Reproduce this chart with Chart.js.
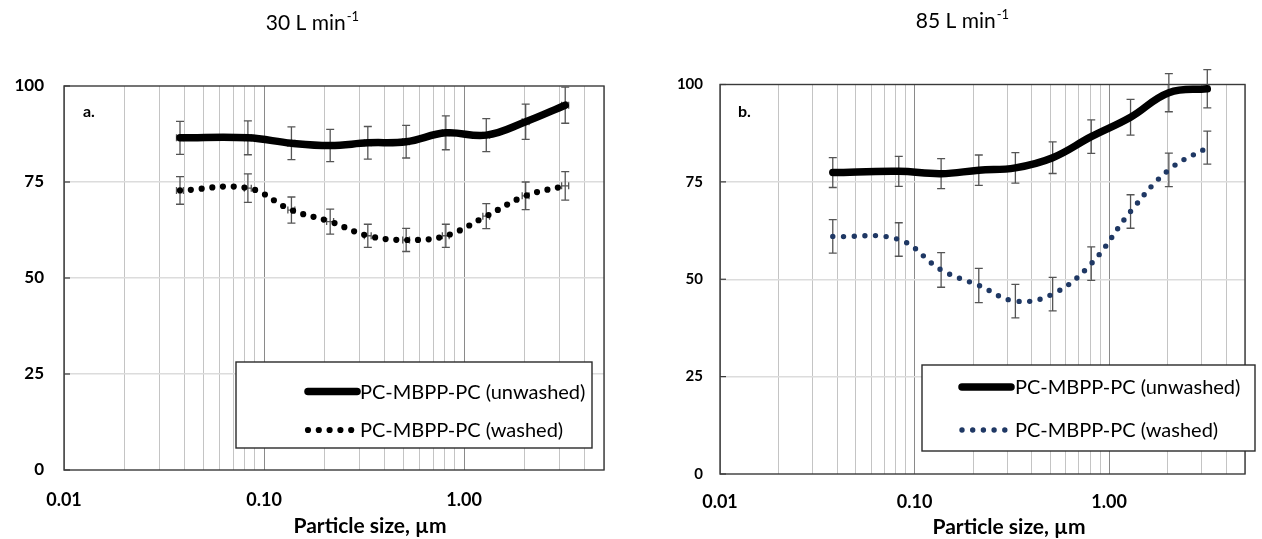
<!DOCTYPE html>
<html><head><meta charset="utf-8">
<script src="https://cdn.jsdelivr.net/npm/chart.js@4.4.1/dist/chart.umd.min.js"></script>
<style>
html,body{margin:0;padding:0;background:#fff;}
#wrap{position:relative;width:1262px;height:539px;overflow:hidden;}
canvas{position:absolute;top:0;}
</style></head><body>
<div id="wrap">
<canvas id="cA" width="624" height="539" style="left:0px"></canvas>
<canvas id="cB" width="632" height="539" style="left:630px"></canvas>
</div>
<script>
// ---------- data ----------
const particleSize = [0.038, 0.083, 0.137, 0.214, 0.33, 0.513, 0.81, 1.29, 2.03, 3.2];
const particleSizeErr = [0.0015, 0.0033, 0.0055, 0.0086, 0.013, 0.02, 0.032, 0.05, 0.08, 0.13];

const unwashed30 = [86.5, 86.5, 85.1, 84.5, 85.2, 85.5, 87.8, 87.2, 90.7, 95.0];
const unwashed30Err = [4.3, 4.4, 4.25, 4.2, 4.25, 4.25, 4.4, 4.3, 4.6, 4.7];
const washed30 = [72.8, 73.4, 67.7, 64.7, 61.0, 59.9, 61.0, 66.1, 71.4, 74.0];
const washed30Err = [3.6, 3.7, 3.4, 3.25, 3.0, 3.0, 3.0, 3.25, 3.6, 3.7];

const unwashed85 = [77.4, 77.7, 77.1, 78.0, 78.6, 81.2, 86.6, 91.6, 97.9, 98.9];
const unwashed85Err = [3.85, 3.85, 3.85, 3.9, 3.9, 4.05, 4.3, 4.6, 4.9, 4.9];
const washed85 = [61.0, 60.2, 52.4, 48.4, 44.4, 46.2, 54.0, 67.4, 78.1, 83.8];
const washed85Err = [4.3, 4.3, 4.45, 4.4, 4.3, 4.3, 4.3, 4.3, 4.3, 4.25];

const seriesLabels = ['PC-MBPP-PC (unwashed)', 'PC-MBPP-PC (washed)'];
const xGridValues = [0.01,0.02,0.03,0.04,0.05,0.06,0.07,0.08,0.09,0.1,0.2,0.3,0.4,0.5,0.6,0.7,0.8,0.9,1,2,3,4,5];
const xLabelValues = [0.01, 0.1, 1];
const xLabelTexts = ['0.01', '0.10', '1.00'];
const yTickValues = [0, 25, 50, 75, 100];
const panelTitles = ['30 L min', '85 L min'];
const titleSuperscript = '-1';
const panelLetters = ['a.', 'b.'];
const xAxisTitle = 'Particle size, µm';

// ---------- drawing ----------
const FONT = 'Lato, "Open Sans", "DejaVu Sans", sans-serif';

const decorPlugin = {
  id: 'decor',
  beforeDatasetsDraw(chart, args, o) {
    const ctx = chart.ctx, a = chart.chartArea;
    const xs = chart.scales.x, ys = chart.scales.y;
    ctx.save();
    // plot frame
    ctx.strokeStyle = '#3a3a3a';
    ctx.lineWidth = 1.4;
    ctx.strokeRect(a.left, a.top, a.right - a.left, a.bottom - a.top);
    // small inside tick marks on y axis
    ctx.lineWidth = 1.2;
    yTickValues.forEach(v => {
      const y = ys.getPixelForValue(v);
      ctx.beginPath(); ctx.moveTo(a.left, y); ctx.lineTo(a.left + 6, y); ctx.stroke();
    });
    // error bars
    ctx.strokeStyle = '#555';
    ctx.lineWidth = 1.3;
    chart.data.datasets.forEach((ds, i) => {
      const err = o.errors[i];
      ds.data.forEach((p, k) => {
        const x = xs.getPixelForValue(p.x);
        const y1 = ys.getPixelForValue(p.y - err[k]);
        const y2 = ys.getPixelForValue(p.y + err[k]);
        ctx.beginPath();
        ctx.moveTo(x, y1); ctx.lineTo(x, y2);
        ctx.moveTo(x - 4, y1); ctx.lineTo(x + 4, y1);
        ctx.moveTo(x - 4, y2); ctx.lineTo(x + 4, y2);
        ctx.stroke();
        if (o.xErrors) {
          const xe = o.xErrors[k];
          const x1 = xs.getPixelForValue(p.x - xe), x2 = xs.getPixelForValue(p.x + xe);
          const y = ys.getPixelForValue(p.y);
          ctx.beginPath();
          ctx.moveTo(x1, y); ctx.lineTo(x2, y);
          ctx.moveTo(x1, y - 3.5); ctx.lineTo(x1, y + 3.5);
          ctx.moveTo(x2, y - 3.5); ctx.lineTo(x2, y + 3.5);
          ctx.stroke();
        }
      });
    });
    ctx.restore();
  },
  afterDatasetsDraw(chart, args, o) {
    const ctx = chart.ctx, L = o.legend;
    ctx.save();
    ctx.fillStyle = '#fff';
    ctx.fillRect(L.x, L.y, L.w, L.h);
    ctx.strokeStyle = '#2a2a2a';
    ctx.lineWidth = 1.4;
    ctx.strokeRect(L.x, L.y, L.w, L.h);
    chart.data.datasets.forEach((ds, i) => {
      const y = L.rows[i];
      ctx.strokeStyle = ds.borderColor;
      ctx.lineWidth = ds.borderWidth;
      ctx.lineCap = 'round';
      ctx.setLineDash(ds.borderDash || []);
      ctx.beginPath(); ctx.moveTo(L.s0, y); ctx.lineTo(L.s1, y); ctx.stroke();
      ctx.setLineDash([]);
      ctx.fillStyle = '#000';
      ctx.font = 'normal 20px ' + FONT;
      ctx.textBaseline = 'middle';
      ctx.textAlign = 'left';
      ctx.fillText(ds.label, L.tx, y + 1);
    });
    ctx.restore();
  },
  afterDraw(chart, args, o) {
    const ctx = chart.ctx;
    ctx.save();
    ctx.fillStyle = '#000';
    ctx.textBaseline = 'middle';
    ctx.textAlign = 'left';
    // title with superscript
    ctx.font = 'normal 21px ' + FONT;
    const w1 = ctx.measureText(o.title).width;
    ctx.font = 'normal 13px ' + FONT;
    const w2 = ctx.measureText(titleSuperscript).width;
    const sx = o.titleX - (w1 + w2) / 2;
    ctx.font = 'normal 21px ' + FONT;
    ctx.fillText(o.title, sx, o.titleY);
    ctx.font = 'normal 13px ' + FONT;
    ctx.fillText(titleSuperscript, sx + w1 + 1, o.titleY - 6);
    // axis title
    ctx.font = 'bold 21px ' + FONT;
    ctx.textAlign = 'center';
    ctx.fillText(xAxisTitle, o.axisTitleX, o.axisTitleY);
    // panel letter
    ctx.font = 'bold 16px ' + FONT;
    ctx.textAlign = 'left';
    ctx.textBaseline = 'alphabetic';
    ctx.fillText(o.letter, o.letterX, o.letterY);
    ctx.restore();
  }
};

function makeChart(canvasId, unw, unwErr, wsh, wshErr, washedStyle, cfg) {
  const datasets = [
    { label: seriesLabels[0], data: particleSize.map((x, i) => ({x, y: unw[i]})),
      borderColor: '#000', borderWidth: 7.5, pointRadius: 0, tension: 0.4,
      borderCapStyle: 'round', borderJoinStyle: 'round', fill: false },
    { label: seriesLabels[1], data: particleSize.map((x, i) => ({x, y: wsh[i]})),
      borderColor: washedStyle.color, borderWidth: washedStyle.width, borderDash: [0, washedStyle.gap],
      pointRadius: 0, tension: 0.4, borderCapStyle: 'round', fill: false }
  ];
  return new Chart(document.getElementById(canvasId), {
    type: 'line',
    data: { datasets },
    plugins: [decorPlugin],
    options: {
      responsive: false, animation: false, events: [],
      layout: { padding: cfg.padding },
      plugins: {
        legend: { display: false }, tooltip: { enabled: false }, title: { display: false },
        decor: {
          errors: [unwErr, wshErr], xErrors: cfg.xErrors,
          legend: cfg.legend, title: cfg.title, titleX: cfg.titleX, titleY: cfg.titleY,
          axisTitleX: cfg.axisTitleX, axisTitleY: cfg.axisTitleY,
          letter: cfg.letter, letterX: cfg.letterX, letterY: 117
        }
      },
      scales: {
        x: {
          type: 'logarithmic', min: 0.01, max: 5,
          afterBuildTicks: s => { s.ticks = xGridValues.map(v => ({value: v})); },
          afterFit: s => { s.height = cfg.xAxisHeight; },
          ticks: {
            autoSkip: false, maxRotation: 0, minRotation: 0, padding: cfg.xTickPad, color: '#000',
            font: { family: FONT, size: 18, weight: 'bold' },
            callback: v => { const k = xLabelValues.findIndex(t => Math.abs(t - v) < 1e-9); return k >= 0 ? xLabelTexts[k] : ''; }
          },
          grid: {
            drawTicks: false, lineWidth: 1,
            color: c => xLabelValues.some(t => Math.abs(t - c.tick.value) < 1e-9) ? '#8a8a8a' : '#c4c4c4'
          },
          border: { display: false }
        },
        y: {
          min: 0, max: 100,
          afterBuildTicks: s => { s.ticks = yTickValues.map(v => ({value: v})); },
          afterFit: s => { s.width = cfg.yAxisWidth; },
          ticks: { padding: cfg.yTickPad, color: '#000', font: { family: FONT, size: cfg.yFont, weight: 'bold' } },
          grid: {
            drawTicks: false, lineWidth: 1.5,
            color: c => (c.tick.value === 0 || c.tick.value === 100) ? 'rgba(0,0,0,0)' : '#dcdcdc'
          },
          border: { display: false }
        }
      }
    }
  });
}

makeChart('cA', unwashed30, unwashed30Err, washed30, washed30Err,
  { color: '#000', width: 6.2, gap: 10.8 },
  {
    padding: { left: 0, right: 20, top: 86, bottom: 0 },
    yAxisWidth: 64, yTickPad: 20, yFont: 17, xAxisHeight: 69, xTickPad: 19,
    xErrors: particleSizeErr,
    legend: { x: 236, y: 362, w: 356, h: 86, s0: 308, s1: 357, tx: 360, rows: [391.5, 430] },
    title: panelTitles[0], titleX: 312, titleY: 23,
    axisTitleX: 370, axisTitleY: 526,
    letter: panelLetters[0], letterX: 83
  });

makeChart('cB', unwashed85, unwashed85Err, washed85, washed85Err,
  { color: '#1f3864', width: 5.4, gap: 10.7 },
  {
    padding: { left: 0, right: 2, top: 84.5, bottom: 0 },
    yAxisWidth: 90, yTickPad: 17, yFont: 15, xAxisHeight: 65, xTickPad: 17,
    xErrors: null,
    legend: { x: 292, y: 365, w: 333, h: 86, s0: 332, s1: 381, tx: 385, rows: [387, 430] },
    title: panelTitles[1], titleX: 332, titleY: 21,
    axisTitleX: 379, axisTitleY: 527.5,
    letter: panelLetters[1], letterX: 108
  });
</script>
</body></html>
